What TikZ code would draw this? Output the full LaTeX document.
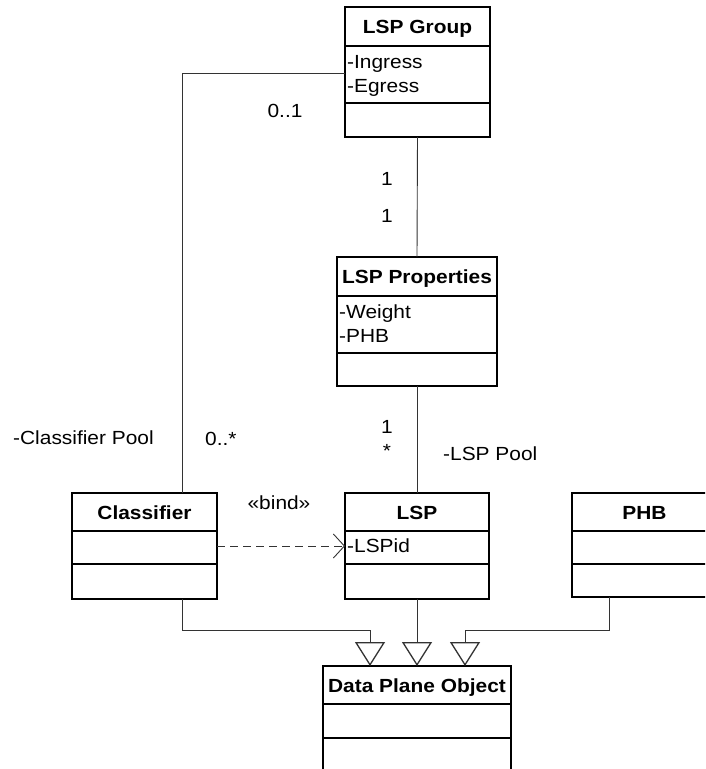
\documentclass[tikz,border=0pt]{standalone}
\usepackage{fontspec}
\setmainfont{Liberation Sans}
\usetikzlibrary{arrows.meta,calc}

% text is set slightly wide throughout
\newcommand{\wtxt}[1]{\scalebox{1.1}[1]{#1}}

% UML class: name, left, top, width, height, header height, attribute bottom, title
\newcommand{\umlclass}[8]{%
  \node[classbox, minimum width=#4pt, minimum height=#5pt] (#1) at (#2,#3) {};
  \draw[boxline] ($(#1.north west)+(0,#6)$) -- ($(#1.north east)+(0,#6)$);
  \draw[boxline] ($(#1.north west)+(0,#7)$) -- ($(#1.north east)+(0,#7)$);
  \node[classtitle] (#1-title) at ($(#1.north)+(0,#6/2+7)$) {\wtxt{#8}};
}

\begin{document}
\begin{tikzpicture}[x=1pt,y=-1pt,
  font=\fontsize{19}{22}\selectfont,
  boxline/.style={draw=black, line width=1.6pt},
  classbox/.style={boxline, anchor=north west, inner sep=0pt, outer sep=0pt, fill=white},
  classtitle/.style={font=\fontsize{19}{22}\selectfont\bfseries, inner sep=0pt, anchor=base},
  attr/.style={anchor=base west, inner sep=0pt},
  lbl/.style={inner sep=0pt, anchor=base},
  lblw/.style={inner sep=0pt, anchor=base west},
  assoc/.style={draw=black!80, line width=0.9pt},
  gen/.style={assoc, -{Triangle[open, length=24pt, width=30pt, line width=1.3pt]}},
  dep/.style={assoc, dash pattern=on 8pt off 5pt, -{Straight Barb[length=11pt, width=24pt, line width=0.9pt]}}
]
\fill[white] (0,0) rectangle (705,769);
\useasboundingbox (0,0) rectangle (705,769);
\clip (0,0) rectangle (705,769);

% classes
\umlclass{grp}{345}{7}{145}{130}{39}{96}{LSP Group}
\umlclass{prop}{337}{257}{160}{129}{39}{96}{LSP Properties}
\umlclass{cls}{72}{493}{145}{106}{38}{71}{Classifier}
\umlclass{lsp}{345}{493}{144}{106}{38}{71}{LSP}
\umlclass{phb}{572}{493}{145}{104}{38}{71}{PHB}
\umlclass{dpo}{323}{666}{188}{120}{38}{72}{Data Plane Object}

% attributes
\node[attr] (grp-a1) at ($(grp.north west)+(2,61)$) {\wtxt{-Ingress}};
\node[attr] (grp-a2) at ($(grp.north west)+(2,85)$) {\wtxt{-Egress}};
\node[attr] (prop-a1) at ($(prop.north west)+(2,61)$) {\wtxt{-Weight}};
\node[attr] (prop-a2) at ($(prop.north west)+(2,85)$) {\wtxt{-PHB}};
\node[attr] (lsp-a1) at ($(lsp.north west)+(2,59)$) {\wtxt{-LSPid}};

% associations
\coordinate (grpL) at (182,73);
\draw[assoc] (grp.west |- grpL) -- (grpL) -- (cls.north -| grpL);
\draw[assoc] (grp.south) -- (prop.north);
\draw[assoc] (prop.south) -- (lsp.north);

% binding dependency
\draw[dep] (cls.east) -- (lsp.west);

% generalizations
\coordinate (clsB) at (182,630);
\coordinate (phbB) at (609,630);
\draw[gen] (cls.south -| clsB) -- (clsB) -| ($(dpo.north)+(-47,0)$);
\draw[gen] (lsp.south) -- (dpo.north);
\draw[gen] (phb.south -| phbB) -- (phbB) -| ($(dpo.north)+(48,0)$);

% multiplicities and role names
\node[lbl] (m-grp-cls) at (285,117) {\wtxt{0..1}};
\node[lbl] (m-grp-prop) at (387,185) {\wtxt{1}};
\node[lbl] (m-prop-grp) at (387,222) {\wtxt{1}};
\node[lblw] (r-cls) at (13,444) {\wtxt{-Classifier Pool}};
\node[lblw] (m-cls-grp) at (205,445) {\wtxt{0..*}};
\node[lbl] (m-prop-lsp) at (387,433) {\wtxt{1}};
\node[lbl] (m-lsp-prop) at (387,457) {\wtxt{*}};
\node[lblw] (r-lsp) at (443,460) {\wtxt{-LSP Pool}};
\node[lbl] (bind) at (279,509) {\wtxt{«bind»}};
\end{tikzpicture}
\end{document}
